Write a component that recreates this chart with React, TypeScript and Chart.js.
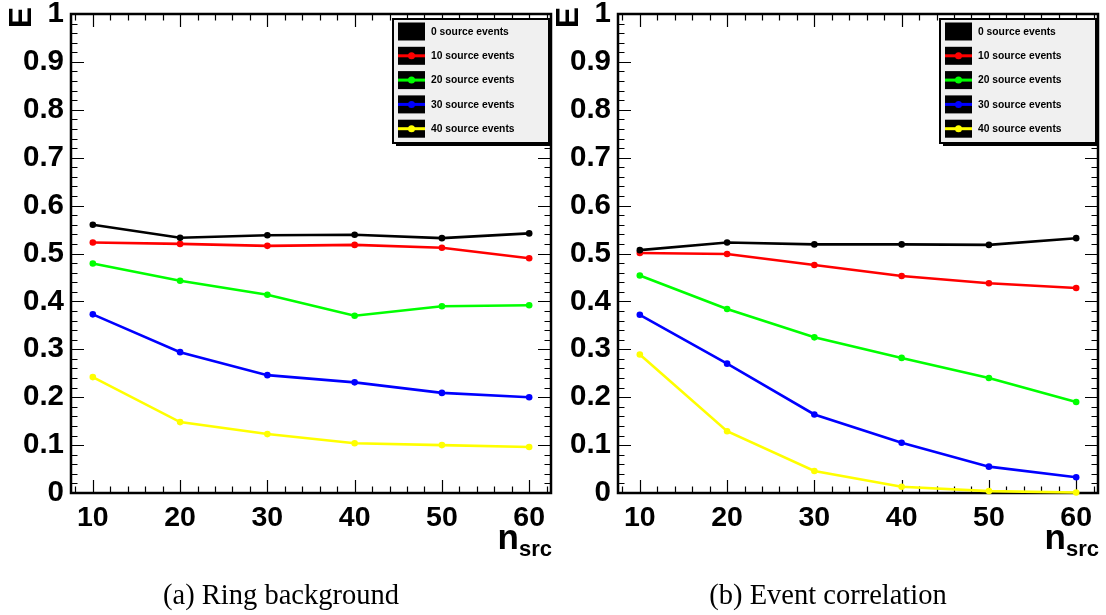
import React, { useEffect, useRef } from "react";
import { Chart, registerables } from "chart.js";

Chart.register(...registerables);

// ---------- data ----------
const nSrc = [10, 20, 30, 40, 50, 60];
const seriesLabels = [
  "0 source events",
  "10 source events",
  "20 source events",
  "30 source events",
  "40 source events",
];
const seriesColors = ["#000000", "#ff0000", "#00ff00", "#0000ff", "#ffff00"];

// (a) Ring background
const ring0 = [0.56, 0.533, 0.538, 0.539, 0.532, 0.542];
const ring10 = [0.523, 0.520, 0.516, 0.518, 0.512, 0.490];
const ring20 = [0.479, 0.443, 0.414, 0.370, 0.390, 0.392];
const ring30 = [0.373, 0.294, 0.246, 0.231, 0.209, 0.200];
const ring40 = [0.242, 0.148, 0.123, 0.104, 0.100, 0.096];

// (b) Event correlation
const corr0 = [0.507, 0.523, 0.519, 0.519, 0.518, 0.532];
const corr10 = [0.501, 0.499, 0.476, 0.453, 0.438, 0.428];
const corr20 = [0.454, 0.384, 0.325, 0.282, 0.240, 0.190];
const corr30 = [0.372, 0.270, 0.164, 0.105, 0.055, 0.033];
const corr40 = [0.289, 0.129, 0.046, 0.013, 0.004, 0.001];

const xTicks = [10, 20, 30, 40, 50, 60];
const xTickLabels = ["10", "20", "30", "40", "50", "60"];
const yTicks = [0, 0.1, 0.2, 0.3, 0.4, 0.5, 0.6, 0.7, 0.8, 0.9, 1];
const yTickLabels = ["0", "0.1", "0.2", "0.3", "0.4", "0.5", "0.6", "0.7", "0.8", "0.9", "1"];
const yTitle = "E";
const xTitleMain = "n";
const xTitleSub = "src";

const FONT = "'Liberation Sans', Arial, Helvetica, sans-serif";

const X_MIN = 7.5;
const X_MAX = 62.5;

const rootPlugin = {
  id: "rootStyle",
  beforeDatasetsDraw(chart: any) {
    const { ctx, chartArea } = chart;
    const { left, right, top, bottom } = chartArea;
    const xs = chart.scales.x;
    const ys = chart.scales.y;
    ctx.save();
    ctx.strokeStyle = "#000";
    ctx.lineWidth = 1.2;
    ctx.beginPath();
    for (let i = 0; i <= 50; i++) {
      const v = i * 0.02;
      const y = Math.round(ys.getPixelForValue(v)) + 0.5;
      const major = i % 5 === 0;
      const len = major ? 13 : 6.5;
      ctx.moveTo(left, y);
      ctx.lineTo(left + len, y);
      ctx.moveTo(right, y);
      ctx.lineTo(right - len, y);
    }
    for (let v = 8; v <= 62; v += 2) {
      const x = Math.round(xs.getPixelForValue(v)) + 0.5;
      const major = v % 10 === 0;
      const len = major ? 13 : 6.5;
      ctx.moveTo(x, bottom);
      ctx.lineTo(x, bottom - len);
      ctx.moveTo(x, top);
      ctx.lineTo(x, top + len);
    }
    ctx.stroke();
    ctx.lineWidth = 2.5;
    ctx.strokeRect(left, top, right - left, bottom - top);
    ctx.restore();
  },
  afterDraw(chart: any) {
    const { ctx, chartArea } = chart;
    const { left, right, top, bottom } = chartArea;
    ctx.save();
    ctx.fillStyle = "#000";
    ctx.font = `bold 32px ${FONT}`;
    ctx.translate(left - 40, 7);
    ctx.rotate(-Math.PI / 2);
    ctx.textAlign = "right";
    ctx.textBaseline = "alphabetic";
    ctx.fillText(yTitle, 0, 0);
    ctx.restore();

    ctx.save();
    ctx.fillStyle = "#000";
    ctx.font = `bold 22px ${FONT}`;
    const sw = ctx.measureText(xTitleSub).width;
    ctx.textAlign = "right";
    ctx.fillText(xTitleSub, right + 1, bottom + 63);
    ctx.font = `bold 35px ${FONT}`;
    ctx.fillText(xTitleMain, right + 1 - sw, bottom + 56);
    ctx.restore();

    const lx0 = left + 322;
    const ly0 = top + 5;
    const lx1 = right - 2;
    const ly1 = top + 129;
    ctx.save();
    ctx.fillStyle = "#000";
    ctx.fillRect(lx0 + 3, ly0 + 3, lx1 - lx0, ly1 - ly0);
    ctx.fillStyle = "#f0f0f0";
    ctx.fillRect(lx0, ly0, lx1 - lx0, ly1 - ly0);
    ctx.strokeStyle = "#000";
    ctx.lineWidth = 2;
    ctx.strokeRect(lx0, ly0, lx1 - lx0, ly1 - ly0);
    const rowH = 24.3;
    seriesLabels.forEach((lab, i) => {
      const cy = ly0 + 12.5 + i * rowH;
      const sx = lx0 + 5;
      ctx.fillStyle = "#000";
      ctx.fillRect(sx, cy - 9, 27, 18);
      ctx.strokeStyle = seriesColors[i];
      ctx.lineWidth = 3;
      ctx.beginPath();
      ctx.moveTo(sx, cy);
      ctx.lineTo(sx + 27, cy);
      ctx.stroke();
      ctx.fillStyle = seriesColors[i];
      ctx.beginPath();
      ctx.arc(sx + 13.5, cy, 3.5, 0, Math.PI * 2);
      ctx.fill();
      ctx.fillStyle = "#000";
      ctx.font = `bold 10.3px ${FONT}`;
      ctx.textAlign = "left";
      ctx.textBaseline = "middle";
      ctx.fillText(lab, sx + 33, cy + 0.5);
    });
    ctx.restore();
  },
};

function Panel({ series, left }: { series: number[][]; left: number }) {
  const ref = useRef<HTMLCanvasElement | null>(null);
  useEffect(() => {
    if (!ref.current) return;
    const chart = new Chart(ref.current, {
      type: "line",
      data: {
        datasets: series.map((vals, i) => ({
          label: seriesLabels[i],
          data: nSrc.map((x, j) => ({ x, y: vals[j] })),
          borderColor: seriesColors[i],
          backgroundColor: seriesColors[i],
          borderWidth: 2.6,
          pointRadius: 3.3,
          pointBorderWidth: 0,
          pointBackgroundColor: seriesColors[i],
          tension: 0,
          clip: false as any,
        })),
      },
      options: {
        responsive: false,
        animation: false,
        devicePixelRatio: 1,
        layout: { padding: { left: 0, top: 14, right: 3, bottom: 62 } },
        plugins: { legend: { display: false }, tooltip: { enabled: false } },
        scales: {
          x: {
            type: "linear",
            min: X_MIN,
            max: X_MAX,
            grid: { display: false, drawTicks: false },
            border: { display: false },
            ticks: {
              color: "#000",
              font: { family: FONT, size: 28.5, weight: "bold" },
              padding: 8,
              autoSkip: false,
              maxRotation: 0,
              callback: (v: any) => xTickLabels[xTicks.indexOf(v)] ?? "",
            },
            afterBuildTicks: (s: any) => {
              s.ticks = xTicks.map((v) => ({ value: v }));
            },
            afterFit: (s: any) => {
              s.height = 60;
              s.paddingLeft = 0;
              s.paddingRight = 0;
            },
          },
          y: {
            type: "linear",
            min: 0,
            max: 1,
            grid: { display: false, drawTicks: false },
            border: { display: false },
            ticks: {
              color: "#000",
              font: { family: FONT, size: 29.5, weight: "bold" },
              padding: 7,
              autoSkip: false,
              callback: (v: any) => yTickLabels[yTicks.indexOf(v)] ?? "",
            },
            afterBuildTicks: (s: any) => {
              s.ticks = yTicks.map((v) => ({ value: v }));
            },
            afterFit: (s: any) => {
              s.width = 71;
              s.paddingTop = 0;
              s.paddingBottom = 0;
            },
          },
        },
      } as any,
      plugins: [rootPlugin],
    });
    return () => chart.destroy();
  }, []);
  return (
    <canvas
      ref={ref}
      width={555}
      height={615}
      style={{ position: "absolute", left, top: 0, width: 555, height: 615 }}
    />
  );
}

const captionStyle: React.CSSProperties = {
  position: "absolute",
  top: 578,
  fontFamily: "'Liberation Serif', 'Times New Roman', serif",
  fontSize: 28.5,
  color: "#000",
  whiteSpace: "nowrap",
  transform: "translateX(-50%)",
  lineHeight: "34px",
};

export default function App() {
  return (
    <div
      style={{
        position: "fixed",
        left: 0,
        top: 0,
        width: 1106,
        height: 615,
        background: "#fff",
        overflow: "hidden",
      }}
    >
      <Panel series={[ring0, ring10, ring20, ring30, ring40]} left={0} />
      <Panel series={[corr0, corr10, corr20, corr30, corr40]} left={547} />
      <div style={{ ...captionStyle, left: 281 }}>(a) Ring background</div>
      <div style={{ ...captionStyle, left: 828 }}>(b) Event correlation</div>
    </div>
  );
}
